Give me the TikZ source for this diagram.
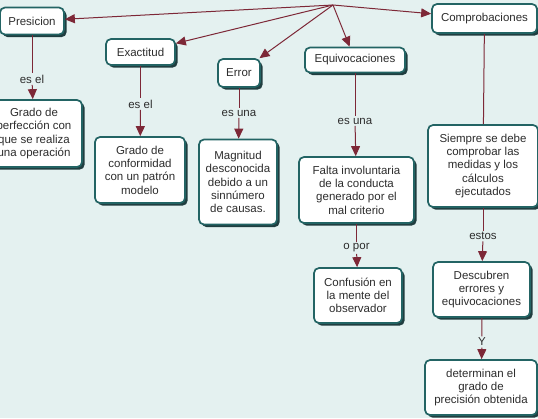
\documentclass[tikz,border=0pt]{standalone}
\usepackage{fontspec}
\setmainfont{Liberation Sans}
\usetikzlibrary{arrows.meta,shadows}
\definecolor{bg}{RGB}{228,241,240}
\definecolor{bord}{RGB}{35,100,100}
\definecolor{shad}{RGB}{32,62,64}
\definecolor{link}{RGB}{125,40,55}
\definecolor{txt}{RGB}{45,45,45}
\begin{document}
\begin{tikzpicture}[x=1pt,y=-1pt,
  concept/.style={draw=bord, line width=1.7pt, rounded corners=5pt, fill=white,
    align=center, inner sep=2pt, text=txt, font=\fontsize{11.5}{13.3}\selectfont,
    drop shadow={shadow xshift=2.6pt, shadow yshift=-2.6pt, fill=shad, opacity=1}},
  linkphr/.style={font=\fontsize{11.5}{13.3}\selectfont, text=txt, inner sep=1.5pt},
  conn/.style={draw=link, line width=1pt},
  arr/.style={conn, -{Triangle[length=10pt,width=9pt]}}]
\fill[bg] (0,0) rectangle (538,418);
\useasboundingbox (0,0) rectangle (538,418);
\coordinate (hub) at (333,5);
% concepts
\node[concept, minimum width=64pt, minimum height=27pt] (pres) at (32,21) {Presicion};
\node[concept, minimum width=96pt, minimum height=67pt] (pgrado) at (34,133.5) {Grado de\\perfección con\\que se realiza\\una operación};
\node[concept, minimum width=69pt, minimum height=26pt] (exac) at (140.5,52) {Exactitud};
\node[concept, minimum width=90pt, minimum height=66pt] (cgrado) at (140,170) {Grado de\\conformidad\\con un patrón\\modelo};
\node[concept, minimum width=42pt, minimum height=28pt] (error) at (239,73) {Error};
\node[concept, minimum width=78pt, minimum height=85pt] (magn) at (238,182) {Magnitud\\desconocida\\debido a un\\sinnúmero\\de causas.};
\node[concept, minimum width=100pt, minimum height=25pt] (equiv) at (355,60) {Equivocaciones};
\node[concept, minimum width=115pt, minimum height=66pt] (falta) at (356.5,190) {Falta involuntaria\\de la conducta\\generado por el\\mal criterio};
\node[concept, minimum width=88pt, minimum height=55pt] (conf) at (358,295.5) {Confusión en\\la mente del\\observador};
\node[concept, minimum width=105pt, minimum height=29pt] (compr) at (484.5,18.5) {Comprobaciones};
\node[concept, minimum width=110pt, minimum height=82pt] (siem) at (483,166) {Siempre se debe\\comprobar las\\medidas y los\\cálculos\\ejecutados};
\node[concept, minimum width=97pt, minimum height=55pt] (desc) at (481.5,289.5) {Descubren\\errores y\\equivocaciones};
\node[concept, minimum width=112pt, minimum height=55pt] (det) at (481,387.5) {determinan el\\grado de\\precisión obtenida};
% linking phrases
\node[linkphr] (l1) at (32,79) {es el};
\node[linkphr] (l2) at (140.5,104) {es el};
\node[linkphr] (l3) at (239,113) {es una};
\node[linkphr] (l4) at (355,121) {es una};
\node[linkphr] (l5) at (356.5,248) {o por};
\node[linkphr] (l6) at (483,236) {estos};
\node[linkphr] (l7) at (482,342) {Y};
% hub connectors
\draw[arr] (hub) -- (pres);
\draw[arr] (hub) -- (exac);
\draw[arr] (hub) -- (error);
\draw[arr] (hub) -- (equiv);
\draw[arr] (hub) -- (compr);
% vertical connectors
\draw[conn] (pres) -- (l1);
\draw[arr] (l1) -- (pgrado);
\draw[conn] (exac) -- (l2);
\draw[arr] (l2) -- (cgrado);
\draw[conn] (error) -- (l3);
\draw[arr] (l3) -- (magn);
\draw[conn] (equiv) -- (l4);
\draw[arr] (l4) -- (falta);
\draw[conn] (falta) -- (l5);
\draw[arr] (l5) -- (conf);
\draw[conn] (compr) -- (siem);
\draw[conn] (siem) -- (l6);
\draw[arr] (l6) -- (desc);
\draw[conn] (desc) -- (l7);
\draw[arr] (l7) -- (det);
\end{tikzpicture}
\end{document}
